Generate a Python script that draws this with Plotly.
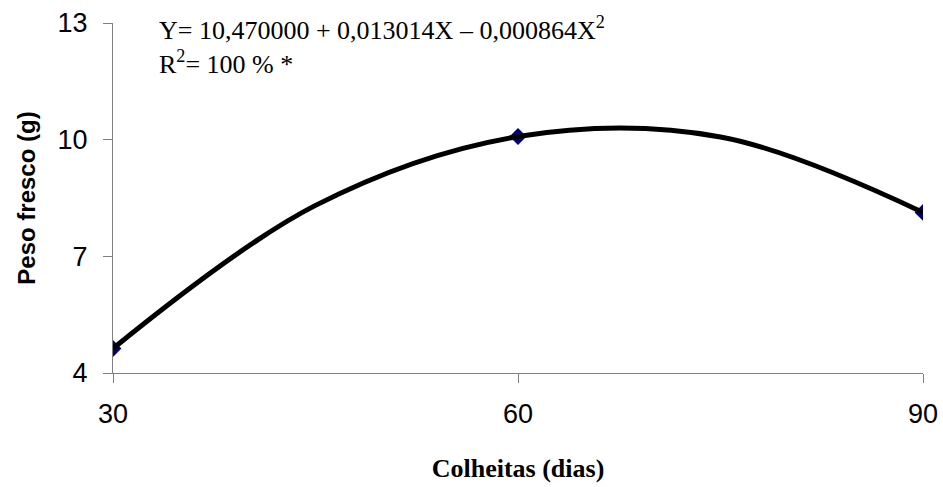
import plotly.graph_objects as go

# Data (observed means)
colheitas = [30, 60, 90]           # dias
peso_fresco = [4.63, 10.08, 8.13]  # g

# Trend line values
trend_x = [30, 45, 60, 75, 90]
trend_y = [4.63, 8.31, 10.08, 10.07, 8.13]

x_ticks = [30, 60, 90]
y_ticks = [4, 7, 10, 13]

eq_line1 = "Y= 10,470000 + 0,013014X – 0,000864X<sup>2</sup>"
eq_line2 = "R<sup>2</sup>= 100 % *"

fig = go.Figure()

fig.add_trace(go.Scatter(
    x=colheitas, y=peso_fresco, mode="markers",
    marker=dict(symbol="diamond", size=13, color="#000080", line=dict(width=0)),
    showlegend=False, hoverinfo="skip",
))
fig.add_trace(go.Scatter(
    x=trend_x, y=trend_y, mode="lines",
    line=dict(color="black", width=5, shape="spline", smoothing=1.0),
    showlegend=False,
))

axis_gray = "#808080"
eq_font = dict(family="Liberation Serif, Times New Roman", size=26, color="black")
fig.update_layout(
    width=943, height=487,
    margin=dict(l=113, r=20, t=23, b=114, autoexpand=False),
    paper_bgcolor="white", plot_bgcolor="white",
    xaxis=dict(
        range=[30, 90], tickvals=x_ticks, ticktext=[str(v) for v in x_ticks],
        showgrid=False, zeroline=False, automargin=False,
        showline=True, linecolor=axis_gray, linewidth=1,
        ticks="outside", ticklen=9, tickcolor=axis_gray, tickwidth=1,
        tickfont=dict(family="Liberation Sans, Arial", size=27, color="black"),
        ticklabelstandoff=8,
        title=dict(text="<b>Colheitas (dias)</b>",
                   font=dict(family="Liberation Serif, Times New Roman", size=26, color="black"),
                   standoff=30),
    ),
    yaxis=dict(
        range=[4, 13], tickvals=y_ticks, ticktext=[str(v) for v in y_ticks],
        showgrid=False, zeroline=False, automargin=False,
        showline=True, linecolor=axis_gray, linewidth=1,
        ticks="outside", ticklen=9, tickcolor=axis_gray, tickwidth=1,
        tickfont=dict(family="Liberation Sans, Arial", size=27, color="black"),
        ticklabelstandoff=10,
        title=dict(text="<b>Peso fresco (g)</b>",
                   font=dict(family="Liberation Sans, Arial", size=24, color="black"),
                   standoff=15),
    ),
    annotations=[
        dict(text=eq_line1 + "<br>" + eq_line2, xref="paper", yref="paper",
             x=(157 - 113) / 810, y=(372.7 - 45) / 350, xanchor="left", yanchor="middle",
             align="left", showarrow=False, font=eq_font),
    ],
)

fig.write_html("out.html", config={"displayModeBar": False},
               post_script="document.body.style.margin='0';")
